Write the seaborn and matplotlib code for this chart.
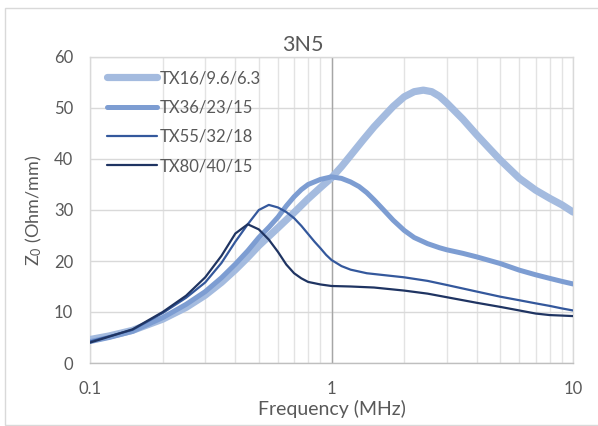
import matplotlib
matplotlib.use("Agg")
import matplotlib.pyplot as plt
import seaborn as sns
import pandas as pd
from matplotlib.patches import Rectangle
from matplotlib.ticker import FixedLocator, NullFormatter, LogLocator

sns.set_theme(style="white")
plt.rcParams['font.family'] = ['Lato', 'DejaVu Sans']
plt.rcParams['mathtext.fontset'] = 'custom'
plt.rcParams['mathtext.rm'] = 'Lato'
plt.rcParams['mathtext.it'] = 'Lato'

title = "3N5"
xlabel = "Frequency (MHz)"
ylabel = "Z$_0$ (Ohm/mm)"
series_names = ["TX16/9.6/6.3", "TX36/23/15", "TX55/32/18", "TX80/40/15"]

f_tx16 = [0.1, 0.12, 0.15, 0.2, 0.25, 0.3, 0.35, 0.4, 0.45, 0.5, 0.6, 0.7, 0.8, 0.9, 1.0, 1.1, 1.2, 1.35,
          1.5, 1.65, 1.8, 2.0, 2.2, 2.4, 2.6, 2.8, 3.0, 3.5, 4.0, 4.5, 5.0, 6.0, 7.0, 8.0, 9.0, 10.0]
z_tx16 = [4.6, 5.3, 6.4, 8.6, 10.9, 13.3, 15.8, 18.3, 20.7, 23.0, 26.5, 29.5, 32.2, 34.4, 36.3, 38.5, 40.7, 43.7,
          46.3, 48.4, 50.3, 52.2, 53.2, 53.5, 53.2, 52.3, 51.0, 47.8, 44.7, 42.1, 39.8, 36.2, 33.9, 32.3, 31.0, 29.6]

f_tx36 = [0.1, 0.12, 0.15, 0.2, 0.25, 0.3, 0.35, 0.4, 0.45, 0.5, 0.55, 0.6, 0.65, 0.7, 0.75, 0.8, 0.9, 1.0,
          1.1, 1.2, 1.3, 1.4, 1.5, 1.6, 1.8, 2.0, 2.2, 2.5, 2.8, 3.0, 3.5, 4.0, 5.0, 6.0, 7.0, 8.0, 9.0, 10.0]
z_tx36 = [4.2, 5.0, 6.2, 8.9, 11.5, 14.0, 16.7, 19.4, 22.0, 24.6, 26.6, 28.6, 30.8, 32.6, 34.0, 35.0, 36.0, 36.5,
          36.2, 35.5, 34.6, 33.4, 32.0, 30.6, 28.0, 26.0, 24.6, 23.4, 22.6, 22.2, 21.5, 20.8, 19.5, 18.2, 17.3, 16.6, 16.0, 15.5]

f_tx55 = [0.1, 0.15, 0.2, 0.25, 0.3, 0.35, 0.4, 0.45, 0.5, 0.55, 0.6, 0.65, 0.7, 0.75, 0.8, 0.85, 0.9, 0.95,
          1.0, 1.1, 1.2, 1.4, 1.6, 2.0, 2.5, 3.0, 4.0, 5.0, 6.0, 7.0, 8.0, 9.0, 10.0]
z_tx55 = [4.2, 6.5, 9.8, 12.8, 15.8, 19.6, 23.8, 27.2, 30.0, 31.0, 30.5, 29.6, 28.4, 26.9, 25.3, 23.8, 22.5, 21.2,
          20.2, 19.0, 18.3, 17.6, 17.3, 16.8, 16.1, 15.3, 14.0, 13.0, 12.3, 11.7, 11.2, 10.7, 10.3]

f_tx80 = [0.1, 0.15, 0.2, 0.25, 0.3, 0.35, 0.4, 0.45, 0.5, 0.55, 0.6, 0.65, 0.7, 0.75, 0.8, 0.9, 1.0, 1.2,
          1.5, 2.0, 2.5, 3.0, 4.0, 5.0, 6.0, 7.0, 8.0, 9.0, 10.0]
z_tx80 = [4.0, 6.6, 10.0, 13.2, 16.8, 21.0, 25.4, 27.2, 26.2, 24.2, 21.8, 19.3, 17.6, 16.6, 15.9, 15.4, 15.1, 15.0,
          14.8, 14.2, 13.6, 12.9, 11.8, 11.0, 10.3, 9.7, 9.4, 9.3, 9.2]

colors = ["#a4bbdf", "#7d9dd2", "#34589c", "#1f3462"]
widths = [5.2, 3.6, 1.6, 1.6]

fig = plt.figure(figsize=(5.98, 4.26), dpi=100)
ax = fig.add_axes([90/598, 1-363/426, (573-90)/598, (363-57)/426])

fig.patches.append(Rectangle((5/598, 1-425/426), 1.0, (425-8)/426, transform=fig.transFigure,
                             fill=False, edgecolor="#d9d9d9", linewidth=1.0))

data = [(f_tx16, z_tx16), (f_tx36, z_tx36), (f_tx55, z_tx55), (f_tx80, z_tx80)]
for (fx, zy), name, c, w in zip(data, series_names, colors, widths):
    df = pd.DataFrame({"f": fx, "z": zy})
    sns.lineplot(data=df, x="f", y="z", ax=ax, color=c, linewidth=w, label=name,
                 sort=False, solid_capstyle="round", solid_joinstyle="round", zorder=3)

ax.set_xscale("log")
ax.set_xlim(0.1, 10)
ax.set_ylim(0, 60)
ax.set_yticks([0, 10, 20, 30, 40, 50, 60])
ax.xaxis.set_major_locator(FixedLocator([0.1, 1, 10]))
ax.set_xticklabels(["0.1", "1", "10"])
ax.xaxis.set_minor_locator(LogLocator(base=10, subs=[2, 3, 4, 5, 6, 7, 8, 9]))
ax.xaxis.set_minor_formatter(NullFormatter())

ax.grid(True, which="both", axis="x", color="#e3e3e3", linewidth=1.0, zorder=0)
ax.grid(True, which="major", axis="y", color="#d9d9d9", linewidth=1.0, zorder=0)
ax.axvline(1, color="#a6a6a6", linewidth=1.0, zorder=1)

for s in ["top", "right", "left"]:
    ax.spines[s].set_color("#d9d9d9")
ax.spines["bottom"].set_color("#bfbfbf")
for s in ax.spines.values():
    s.set_linewidth(1.0)

ax.tick_params(axis="both", which="both", length=0, labelsize=12, labelcolor="#595959")
ax.tick_params(axis="x", pad=13)
ax.tick_params(axis="y", pad=12)

ax.set_xlabel(xlabel, fontsize=14, color="#595959", labelpad=2)
ax.set_ylabel(ylabel, fontsize=13, color="#595959", labelpad=7)
ax.set_title(title, fontsize=15.5, color="#595959", x=(303-90)/483, pad=4)

leg = ax.legend(loc="upper left", bbox_to_anchor=(0.015, 0.99), frameon=False, fontsize=12,
                handlelength=3.0, handletextpad=0.15, labelspacing=0.8, labelcolor="#595959",
                borderaxespad=0.2)

fig.savefig("out.png", dpi=100)
